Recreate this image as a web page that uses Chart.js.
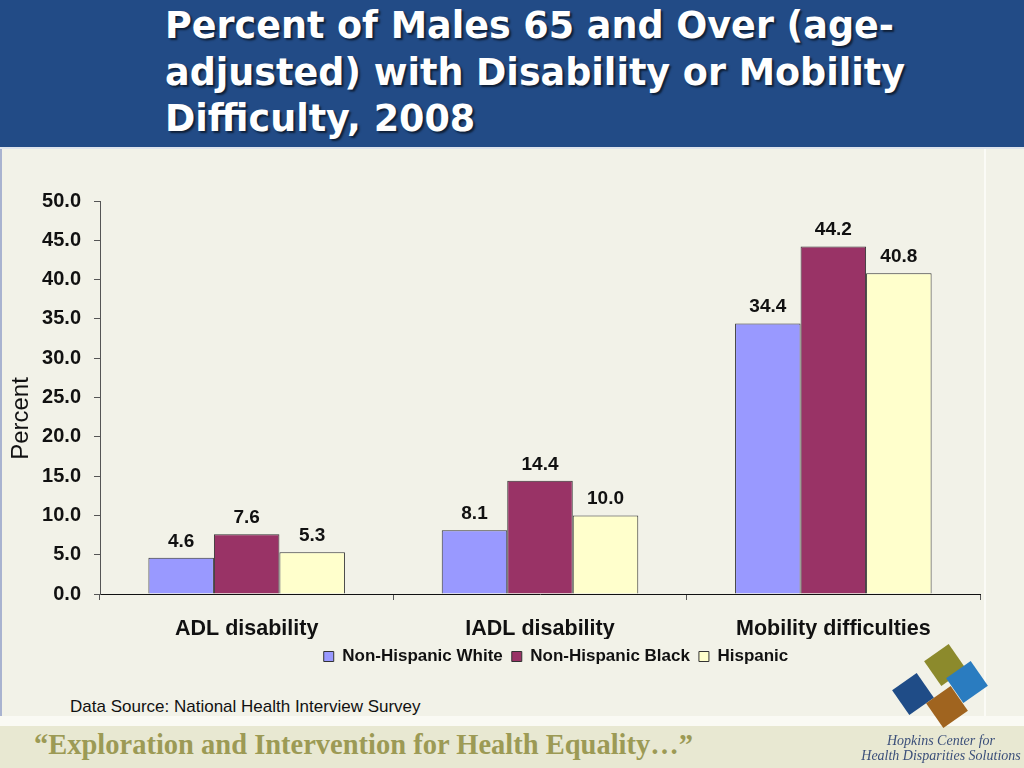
<!DOCTYPE html>
<html>
<head>
<meta charset="utf-8">
<script src="https://cdn.jsdelivr.net/npm/chart.js@4"></script>
<style>
  body { margin: 0; width: 1024px; height: 768px; overflow: hidden; background: #f2f2e8; font-family: "Liberation Sans", Arial, sans-serif; position: relative; }
  #header { position: absolute; left: 0; top: 0; width: 1024px; height: 147px; background: #224b86; border-bottom: 2px solid #dfe4ec; }
  #title { position: absolute; left: 165px; top: 3px; color: #fff; font-family: "DejaVu Sans", sans-serif; font-weight: bold; font-size: 36.5px; line-height: 46.5px; text-shadow: 2px 2px 2px rgba(0,0,0,0.6); white-space: nowrap; }
  #edgeL { position: absolute; left: 0; top: 149px; width: 2px; height: 567px; background: #a9b3d0; }
  #edgeR { position: absolute; left: 984px; top: 149px; width: 2px; height: 567px; background: #fbfbf6; }
  #chartBox { position: absolute; left: 0; top: 160px; width: 1000px; height: 515px; }
  #source { position: absolute; left: 70px; top: 697px; font-size: 17px; color: #111; }
  #whiteband { position: absolute; left: 0; top: 716px; width: 1024px; height: 10px; background: #fafaf4; }
  #footer { position: absolute; left: 0; top: 726px; width: 1024px; height: 42px; background: #e8e8d2; }
  #motto { position: absolute; left: 34px; top: 729px; font-family: "Liberation Serif", serif; font-weight: bold; font-size: 28.5px; color: #9c9a55; }
  #org { position: absolute; left: 858px; top: 733px; width: 166px; text-align: center; font-family: "Liberation Serif", serif; font-style: italic; font-size: 14px; line-height: 15px; color: #3b4f7a; }
  .pz { position: absolute; width: 30px; height: 30px; transform: rotate(-35deg); }
</style>
</head>
<body>
<div id="header"><div id="title">Percent of Males 65 and Over (age-<br>adjusted) with Disability or Mobility<br>Difficulty, 2008</div></div>
<div id="edgeL"></div>
<div id="edgeR"></div>
<div id="chartBox"><canvas id="chart" width="1000" height="515"></canvas></div>
<div id="source">Data Source: National Health Interview Survey</div>
<div id="whiteband"></div>
<div id="footer"></div>
<div class="pz" style="left:930px;top:650px;background:#8c8a2c"></div>
<div class="pz" style="left:952px;top:667px;background:#2a7cc0"></div>
<div class="pz" style="left:898px;top:679px;background:#1f4c87"></div>
<div class="pz" style="left:932px;top:692px;background:#a0641f"></div>
<div id="motto">“Exploration and Intervention for Health Equality…”</div>
<div id="org">Hopkins Center for<br>Health Disparities Solutions</div>

<script>
const categories = ["ADL disability", "IADL disability", "Mobility difficulties"];
const seriesNames = ["Non-Hispanic White", "Non-Hispanic Black", "Hispanic"];
const white = [4.6, 8.1, 34.4];
const black = [7.6, 14.4, 44.2];
const hispanic = [5.3, 10.0, 40.8];
const yTicks = [0, 5, 10, 15, 20, 25, 30, 35, 40, 45, 50];

const colors = ["#9999ff", "#993366", "#ffffcc"];
const FONT = "'Liberation Sans', Arial, sans-serif";

// value labels above each bar + the "Percent" axis label (sits a bit below centre)
const extras = {
  id: "extras",
  afterLayout(chart) {
    // legend in the original is shifted right of the canvas centre
    chart.legend.left += 66;
    chart.legend.right += 66;
  },
  afterDatasetsDraw(chart) {
    const ctx = chart.ctx;
    ctx.save();
    ctx.font = "bold 19px " + FONT;
    ctx.fillStyle = "#111";
    ctx.textAlign = "center";
    ctx.textBaseline = "bottom";
    chart.data.datasets.forEach((ds, i) => {
      chart.getDatasetMeta(i).data.forEach((bar, j) => {
        ctx.fillText(ds.data[j].toFixed(1), bar.x, bar.y - 7);
      });
    });
    const area = chart.chartArea;
    ctx.translate(21, (area.top + area.bottom) / 2 + 21);
    ctx.rotate(-Math.PI / 2);
    ctx.font = "24px " + FONT;
    ctx.textBaseline = "middle";
    ctx.fillText("Percent", 0, 0);
    ctx.restore();
  }
};

const canvas = document.getElementById("chart");
new Chart(canvas.getContext("2d"), {
  type: "bar",
  data: {
    labels: categories,
    datasets: [white, black, hispanic].map((d, i) => ({
      label: seriesNames[i],
      data: d,
      backgroundColor: colors[i],
      borderColor: "#333",
      borderWidth: 1,
      barPercentage: 1,
      categoryPercentage: 0.67
    }))
  },
  options: {
    responsive: false,
    animation: false,
    layout: { padding: { top: 41, right: 20, left: 0, bottom: 0 } },
    plugins: {
      legend: {
        position: "bottom",
        labels: {
          color: "#111",
          font: { family: FONT, size: 17, weight: "bold" },
          boxWidth: 10,
          boxHeight: 10,
          padding: 9
        }
      },
      tooltip: { enabled: false }
    },
    scales: {
      x: {
        afterFit: (s) => { s.height = 45; },
        grid: { drawOnChartArea: false, drawTicks: true, tickLength: 6, color: "#555" },
        border: { color: "#111" },
        ticks: {
          color: "#111",
          padding: 16,
          font: { family: FONT, size: 21.5, weight: "bold" }
        }
      },
      y: {
        min: 0,
        max: 50,
        afterFit: (s) => { s.width = 100; },
        afterBuildTicks: (s) => { s.ticks = yTicks.map(v => ({ value: v })); },
        grid: { drawOnChartArea: false, drawTicks: true, tickLength: 6, color: "#555" },
        border: { color: "#555" },
        ticks: {
          color: "#111",
          padding: 13,
          font: { family: FONT, size: 20, weight: "bold" },
          callback: (v) => Number(v).toFixed(1)
        }
      }
    }
  },
  plugins: [extras]
});
</script>
</body>
</html>
